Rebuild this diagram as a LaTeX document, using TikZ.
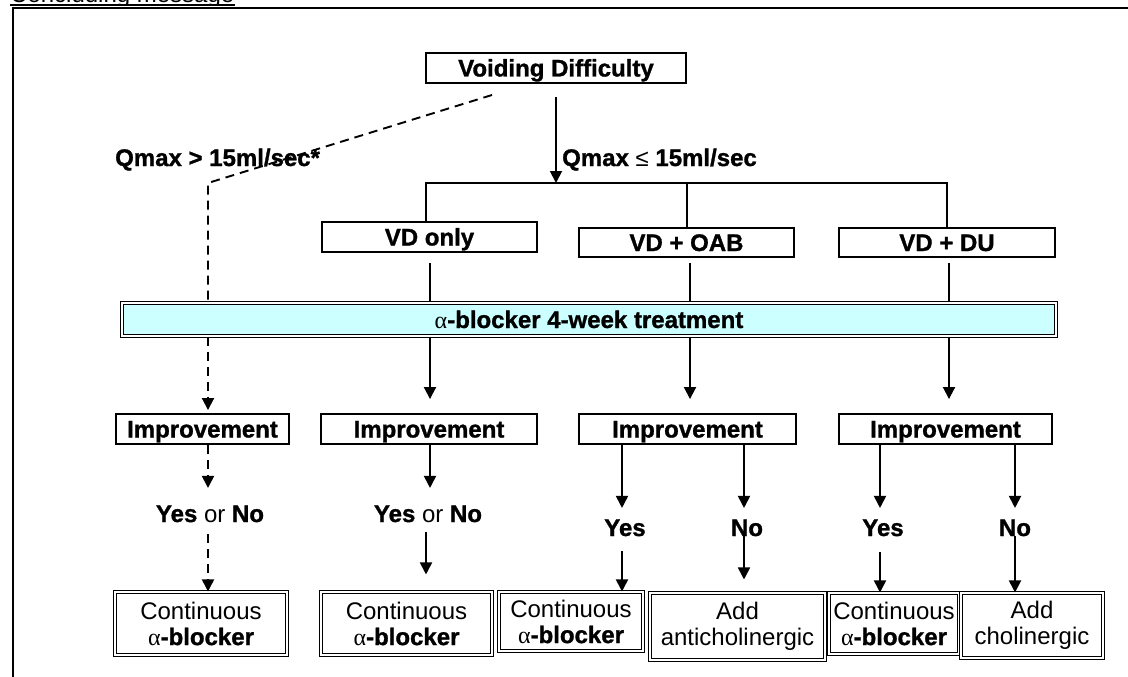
\documentclass[tikz,border=0pt]{standalone}
\usepackage{fontspec}
\setmainfont[BoldFeatures={FakeBold=1.2}]{Liberation Sans}
\newfontfamily\grk{Liberation Serif}
\usetikzlibrary{arrows.meta,calc}
\newcommand{\alfa}{{\grk\mdseries α}}
\definecolor{barfill}{RGB}{204,255,255}
\tikzset{
  ln/.style={line width=1.9pt},
  arr/.style={line width=1.9pt,-{Triangle[length=12pt,width=12pt]}},
  dsh/.style={dash pattern=on 9pt off 6pt},
  box/.style={draw,line width=1.9pt,inner sep=0pt,text height=17pt,text depth=0pt,font=\bfseries\fontsize{24}{26}\selectfont},
  dbox/.style={draw,line width=1.1pt,double,double distance=2pt,inner sep=0pt,align=center,font=\fontsize{24}{26}\selectfont},
  lbl/.style={inner sep=0pt,font=\bfseries\fontsize{24}{26}\selectfont},
  barbox/.style={draw,line width=1.4pt,double,double distance=1.5pt,fill=barfill,inner sep=0pt,text height=17pt,text depth=0pt,font=\bfseries\fontsize{24}{26}\selectfont}
}
\begin{document}
\begin{tikzpicture}[x=1pt,y=-1pt]
\useasboundingbox (0,0) rectangle (1128,677);
% header text (cut off at top, as in the reference)
\begin{scope}
\clip (0,0) rectangle (1128,5.5);
\node[anchor=base west,inner sep=0pt,font=\fontsize{24}{26}\selectfont] (title) at (10,3) {Concluding message};
\end{scope}
\draw[line width=1.6pt] ($(title.base west)+(0,2.2)$) -- ($(title.base east)+(0,2.2)$);
% frame
\draw[line width=2.6pt] (13,690) -- (13,8) -- (1140,8);

% nodes
\node[box,minimum width=260pt,minimum height=30pt] (vd) at (556,68) {Voiding Difficulty};
\node[box,minimum width=215pt,minimum height=30pt] (vdo) at (429.5,237) {VD only};
\node[box,minimum width=215pt,minimum height=29pt] (voab) at (686.5,242.5) {VD + OAB};
\node[box,minimum width=216pt,minimum height=29pt] (vdu) at (947,242.5) {VD + DU};
\node[barbox,minimum width=934pt,minimum height=33pt] (bar) at (589,319.5) {\alfa-blocker 4-week treatment};

\node[box,minimum width=173pt,minimum height=30pt] (i1) at (202.5,429) {Improvement};
\node[box,minimum width=216pt,minimum height=30pt] (i2) at (429,429) {Improvement};
\node[box,minimum width=217pt,minimum height=30pt] (i3) at (687.5,429) {Improvement};
\node[box,minimum width=213pt,minimum height=30pt] (i4) at (945.5,429) {Improvement};

\node[dbox,minimum width=172pt,minimum height=63pt] (cb1) at (201,623.5) {Continuous\\\alfa\textbf{-blocker}};
\node[dbox,minimum width=171pt,minimum height=63pt] (cb2) at (406.5,623.5) {Continuous\\\alfa\textbf{-blocker}};
\node[dbox,minimum width=144pt,minimum height=59pt] (cb3) at (571,621.5) {Continuous\\\alfa\textbf{-blocker}};
\node[dbox,minimum width=175pt,minimum height=67pt] (ab1) at (737.5,626.5) {Add\\anticholinergic};
\node[dbox,minimum width=130pt,minimum height=61pt] (cb4) at (894,623.5) {Continuous\\\alfa\textbf{-blocker}};
\node[dbox,minimum width=142pt,minimum height=65pt] (ab2) at (1032,625.5) {Add\\cholinergic};

% labels
\node[lbl,anchor=base west] (qgt) at (115,166) {Qmax > 15ml/sec*};
\node[lbl,anchor=base west] (qle) at (562,166) {Qmax {\mdseries ≤} 15ml/sec};
\node[lbl,anchor=base] (yn1) at (210,522) {Yes {\mdseries or} No};
\node[lbl,anchor=base] (yn2) at (428,522) {Yes {\mdseries or} No};
\node[lbl,anchor=base] (y3) at (625,536) {Yes};
\node[lbl,anchor=base] (n3) at (747,536) {No};
\node[lbl,anchor=base] (y4) at (883,536) {Yes};
\node[lbl,anchor=base] (n4) at (1015,536) {No};

% coordinates
\coordinate (hM) at (556,183);
\coordinate (hL) at (426,183);
\coordinate (hO) at (687,183);
\coordinate (hR) at (947,183);
\coordinate (dstart) at (492,95);
\coordinate (c1) at (208,0);
\coordinate (c2) at (430,0);
\coordinate (c2b) at (426,0);
\coordinate (c3) at (690,0);
\coordinate (c4) at (949,0);
\coordinate (c3y) at (622,0);
\coordinate (c3n) at (744,0);
\coordinate (c4y) at (880,0);
\coordinate (c4n) at (1015,0);

% connectors
\draw[arr,shorten <=13pt] (vd.south) -- (hM);
\draw[ln] (hL |- vdo.north) -- (hL) -- (hR) -- (hR |- vdu.north);
\draw[ln] (hO) -- (hO |- voab.north);
\draw[ln,dsh] (dstart) -- (c1 |- hM) -- (c1 |- bar.north);
\draw[ln,shorten <=10pt] (c2 |- vdo.south) -- (c2 |- bar.north);
\draw[ln,shorten <=5pt] (c3 |- voab.south) -- (c3 |- bar.north);
\draw[ln,shorten <=5pt] (c4 |- vdu.south) -- (c4 |- bar.north);

\draw[arr,dsh,shorten >=3pt] (c1 |- bar.south) -- (c1 |- i1.north);
\draw[arr,shorten >=14pt] (c2 |- bar.south) -- (c2 |- i2.north);
\draw[arr,shorten >=14pt] (c3 |- bar.south) -- (c3 |- i3.north);
\draw[arr,shorten >=14pt] (c4 |- bar.south) -- (c4 |- i4.north);

\draw[arr,dsh] (c1 |- i1.south) -- ++(0,43);
\draw[arr,dsh] ($(c1 |- cb1.north)+(0,-57)$) -- (c1 |- cb1.north);
\draw[arr] (c2 |- i2.south) -- ++(0,43);
\draw[arr] ($(c2b |- cb2.north)+(0,-59)$) -- ++(0,42);
\draw[arr] (c3y |- i3.south) -- ++(0,63);
\draw[arr] ($(c3y |- cb3.north)+(0,-40)$) -- (c3y |- cb3.north);
\draw[arr] (c3n |- i3.south) -- ++(0,63);
\draw[arr] ($(c3n |- ab1.north)+(0,-56)$) -- ++(0,43);
\draw[arr] (c4y |- i4.south) -- ++(0,63);
\draw[arr] ($(c4y |- cb4.north)+(0,-40)$) -- (c4y |- cb4.north);
\draw[arr] (c4n |- i4.south) -- ++(0,63);
\draw[arr] ($(c4n |- ab2.north)+(0,-56)$) -- (c4n |- ab2.north);
\end{tikzpicture}
\end{document}
